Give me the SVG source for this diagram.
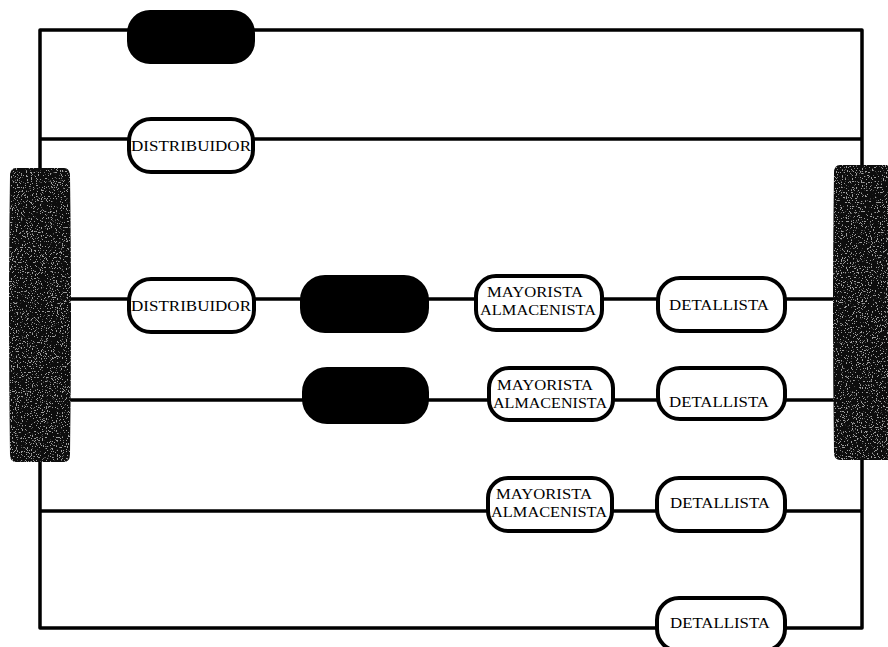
<svg xmlns="http://www.w3.org/2000/svg" width="888" height="647" viewBox="0 0 888 647">
<style>
.ln{fill:none;stroke:#000;stroke-width:3.5;stroke-linejoin:round}
.pill{fill:#fff;stroke:#000;stroke-width:4}
.blk{fill:#000;stroke:#000;stroke-width:2}
.bar{fill:#0d0d0d}
.t{font-family:"Liberation Serif","Times New Roman",serif;font-size:15px;fill:#000}
</style>
<defs>
<filter id="speck" x="0" y="0" width="100%" height="100%">
<feTurbulence type="fractalNoise" baseFrequency="0.8" numOctaves="2" seed="3" result="n"/>
<feColorMatrix in="n" type="matrix" values="0 0 0 0 1  0 0 0 0 1  0 0 0 0 1  0 0 0 -18 7" result="w"/>
<feComposite in="w" in2="SourceGraphic" operator="in"/>
</filter>
</defs>
<g id="connectors">
<path class="ln" d="M40,168 V30 H862 V165"/>
<path class="ln" d="M40,139 H862"/>
<path class="ln" d="M70,299 H835"/>
<path class="ln" d="M70,400 H835"/>
<path class="ln" d="M40,462 V628 H862 V460"/>
<path class="ln" d="M40,511 H862"/>
</g>
<g id="left-bar">
<path class="bar" d="M16,168 H64 Q70,168 70,176 Q72,315 70,454 Q70,462 64,462 H16 Q10,462 10,454 Q8,315 10,176 Q10,168 16,168 Z"/>
<path fill="#fff" filter="url(#speck)" d="M16,168 H64 Q70,168 70,176 Q72,315 70,454 Q70,462 64,462 H16 Q10,462 10,454 Q8,315 10,176 Q10,168 16,168 Z" opacity="0.6"/>
</g>
<g id="right-bar">
<path class="bar" d="M840,165 H888 V460 H840 Q834,460 834,452 Q832,312 834,173 Q834,165 840,165 Z"/>
<path fill="#fff" filter="url(#speck)" d="M840,165 H888 V460 H840 Q834,460 834,452 Q832,312 834,173 Q834,165 840,165 Z" opacity="0.6"/>
</g>
<g id="n1"><rect class="blk" x="128" y="11" width="126" height="52" rx="22"/></g>
<g id="n2"><rect class="pill" x="129" y="119" width="124" height="53" rx="22"/>
<text class="t" x="191" y="151" text-anchor="middle" textLength="120" lengthAdjust="spacingAndGlyphs">DISTRIBUIDOR</text></g>
<g id="n3"><rect class="pill" x="129" y="279" width="125" height="53" rx="22"/>
<text class="t" x="191" y="311" text-anchor="middle" textLength="120" lengthAdjust="spacingAndGlyphs">DISTRIBUIDOR</text></g>
<g id="n4"><rect class="blk" x="301" y="276" width="127" height="56" rx="24"/></g>
<g id="n5"><rect class="pill" x="476" y="276" width="126" height="54" rx="20"/>
<text class="t" x="535" y="297" text-anchor="middle" textLength="96" lengthAdjust="spacingAndGlyphs">MAYORISTA</text>
<text class="t" x="538" y="315" text-anchor="middle" textLength="116" lengthAdjust="spacingAndGlyphs">ALMACENISTA</text></g>
<g id="n6"><rect class="pill" x="658" y="278" width="127" height="53" rx="22"/>
<text class="t" x="719" y="310" text-anchor="middle" textLength="100" lengthAdjust="spacingAndGlyphs">DETALLISTA</text></g>
<g id="n7"><rect class="blk" x="303" y="368" width="125" height="55" rx="24"/></g>
<g id="n8"><rect class="pill" x="489" y="368" width="124" height="52" rx="20"/>
<text class="t" x="545" y="390" text-anchor="middle" textLength="96" lengthAdjust="spacingAndGlyphs">MAYORISTA</text>
<text class="t" x="550" y="408" text-anchor="middle" textLength="114" lengthAdjust="spacingAndGlyphs">ALMACENISTA</text></g>
<g id="n9"><rect class="pill" x="658" y="368" width="127" height="51" rx="22"/>
<text class="t" x="719" y="407" text-anchor="middle" textLength="100" lengthAdjust="spacingAndGlyphs">DETALLISTA</text></g>
<g id="n10"><rect class="pill" x="488" y="478" width="124" height="53" rx="20"/>
<text class="t" x="544" y="499" text-anchor="middle" textLength="96" lengthAdjust="spacingAndGlyphs">MAYORISTA</text>
<text class="t" x="549" y="517" text-anchor="middle" textLength="116" lengthAdjust="spacingAndGlyphs">ALMACENISTA</text></g>
<g id="n11"><rect class="pill" x="657" y="478" width="128" height="53" rx="22"/>
<text class="t" x="720" y="508" text-anchor="middle" textLength="100" lengthAdjust="spacingAndGlyphs">DETALLISTA</text></g>
<g id="n12"><rect class="pill" x="657" y="598" width="128" height="53" rx="22"/>
<text class="t" x="720" y="628" text-anchor="middle" textLength="100" lengthAdjust="spacingAndGlyphs">DETALLISTA</text></g>
</svg>
